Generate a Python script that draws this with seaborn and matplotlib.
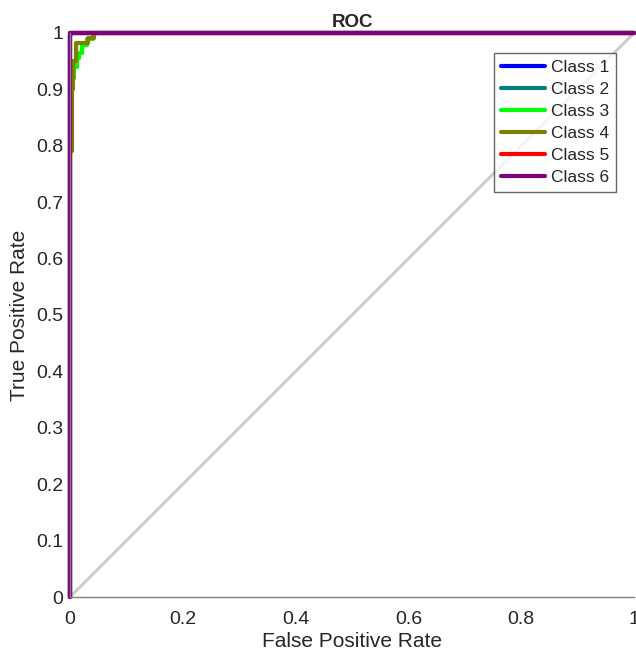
import matplotlib
matplotlib.use("Agg")
import matplotlib.pyplot as plt
import numpy as np
import pandas as pd
import seaborn as sns

# ROC points per class
CLASS_NAMES = ["Class 1", "Class 2", "Class 3", "Class 4", "Class 5", "Class 6"]
COLORS = ["#0000ff", "#008080", "#00ff00", "#808000", "#ff0000", "#800080"]

fpr_1 = [0, 0, 0.003, 1]
tpr_1 = [0, 0.995, 1, 1]
fpr_2 = [0, 0, 1]
tpr_2 = [0, 1, 1]
fpr_3 = [0, 0, 0.004, 0.004, 0.008, 0.008, 0.012, 0.012, 0.016, 0.016, 0.022, 0.022, 0.03, 0.03, 0.04, 0.04, 1]
tpr_3 = [0, 0.9, 0.9, 0.92, 0.92, 0.94, 0.94, 0.955, 0.955, 0.965, 0.965, 0.978, 0.978, 0.99, 0.99, 1, 1]
fpr_4 = [0, 0, 0.004, 0.004, 0.006, 0.006, 0.011, 0.011, 0.032, 0.032, 0.042, 0.042, 1]
tpr_4 = [0, 0.79, 0.79, 0.9, 0.9, 0.95, 0.95, 0.983, 0.983, 0.991, 0.991, 1, 1]
fpr_5 = [0, 0, 1]
tpr_5 = [0, 1, 1]
fpr_6 = [0, 0, 1]
tpr_6 = [0, 1, 1]

ALL_FPR = [fpr_1, fpr_2, fpr_3, fpr_4, fpr_5, fpr_6]
ALL_TPR = [tpr_1, tpr_2, tpr_3, tpr_4, tpr_5, tpr_6]

X_TICKS = [0, 0.2, 0.4, 0.6, 0.8, 1]
X_LABELS = ["0", "0.2", "0.4", "0.6", "0.8", "1"]
Y_TICKS = [0, 0.1, 0.2, 0.3, 0.4, 0.5, 0.6, 0.7, 0.8, 0.9, 1]
Y_LABELS = ["0", "0.1", "0.2", "0.3", "0.4", "0.5", "0.6", "0.7", "0.8", "0.9", "1"]

# long table for seaborn
rows = []
for name, fx, ty in zip(CLASS_NAMES, ALL_FPR, ALL_TPR):
    for i, (a, b) in enumerate(zip(fx, ty)):
        rows.append({"cls": name, "order": i, "fpr": a, "tpr": b})
df = pd.DataFrame(rows)

sns.set_style("white")
plt.rcParams["font.family"] = ["Liberation Sans", "DejaVu Sans"]

fig = plt.figure(figsize=(6.36, 6.57), dpi=100)
ax = fig.add_axes([0.110, 0.0913, 0.887, 0.8585])

# chance diagonal
ax.plot([0, 1], [0, 1], color="#cccccc", linewidth=2.2, zorder=1, clip_on=False)

sns.lineplot(
    data=df, x="fpr", y="tpr", hue="cls", hue_order=CLASS_NAMES,
    palette=COLORS, sort=False, estimator=None, units="cls",
    linewidth=3, ax=ax, legend=True,
)
for line in ax.get_lines():
    line.set_clip_on(False)

ax.set_xlim(0, 1)
ax.set_ylim(0, 1)
ax.set_xticks(X_TICKS)
ax.set_xticklabels(X_LABELS)
ax.set_yticks(Y_TICKS)
ax.set_yticklabels(Y_LABELS)
ax.tick_params(direction="in", length=4, width=1, color="#808080",
               labelsize=14, labelcolor="#262626")
ax.tick_params(axis="x", pad=10)
ax.tick_params(axis="y", pad=5)

for side in ["top", "right"]:
    ax.spines[side].set_visible(False)
for side in ["left", "bottom"]:
    ax.spines[side].set_color("#808080")
    ax.spines[side].set_linewidth(1)

ax.set_title("ROC", fontsize=13.5, fontweight="bold", pad=4)
ax.set_xlabel("False Positive Rate", fontsize=15, color="#262626", labelpad=3)
ax.set_ylabel("True Positive Rate", fontsize=15, color="#262626", labelpad=5)

leg = ax.legend(
    loc="upper right", bbox_to_anchor=(0.968, 0.965), borderaxespad=0,
    fontsize=12.5, frameon=True, fancybox=False, edgecolor="#404040",
    handlelength=2.5, handletextpad=0.35, labelspacing=0.4, borderpad=0.4,
    title=None,
)
leg.get_frame().set_linewidth(1)
for h in leg.get_lines():
    h.set_linewidth(3)

fig.savefig("out.png", dpi=100, facecolor="white")
